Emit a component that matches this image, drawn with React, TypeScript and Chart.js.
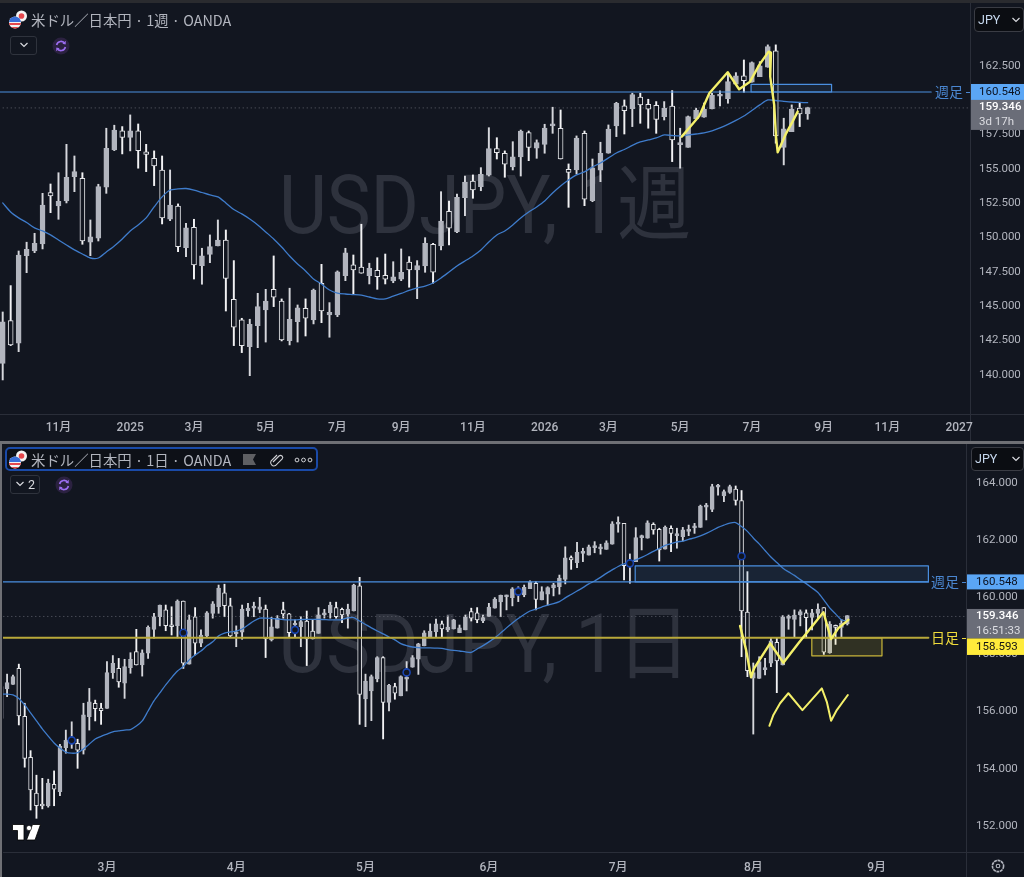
import React, { useEffect, useRef } from 'react';
import { Chart, registerables } from 'chart.js';

Chart.register(...registerables);

const weekOpen = [
140.70,143.81,142.16,148.54,148.88,149.39,153.13,152.16,152.52,154.29,
154.18,149.52,149.81,153.52,156.24,157.64,157.16,157.64,156.11,155.63,
154.78,151.19,152.16,149.12,150.61,147.81,148.64,149.25,149.68,145.36,
143.86,141.91,143.44,144.59,146.09,145.24,142.35,143.73,144.71,143.86,
146.53,144.22,144.22,147.08,147.88,147.7,147.08,147.48,147.11,146.7,
146.82,148.08,147.5,147.79,149.37,149.25,151.77,150.27,152.76,153.98,
153.57,154.4,156.33,156.0,155,155.73,157.5,156.36,156.65,157.99,
157.82,154.83,154.78,157.45,152.55,154.76,156,157.99,159.46,159.25,
160.08,159.57,159.49,158.66,159.44,156.63,156.43,158.5,158.62,159.22,
160.15,159.97,161.02,161.63,161.17,161.58,162.26,163.45,156.43,157.57,159.28,158.86];
const weekHigh = [
144.44,146.36,148.88,149.52,150.17,153.08,153.76,154.58,156.65,155.8,
154.58,151.14,153.74,157.82,158.04,157.94,158.79,158.13,156.65,156.17,
155.8,154.78,152.31,150.9,151.19,149.08,150.05,151.14,150.41,148.18,
143.98,143.91,145.8,146.09,148.52,145.39,146.17,144.95,145.39,146.11,
147.91,145.12,147.43,149.08,148.59,150.83,147.99,148.39,148.66,148.1,
149.03,148.47,148.18,149.85,149.44,153.2,152.52,153.03,154.34,154.42,
154.95,157.86,157.13,156.17,156.84,157.69,157.62,156.97,158.11,159.35,
159.15,155.22,157.26,157.62,155.58,156.8,158.06,159.71,159.88,160.37,
160.37,159.93,159.76,159.76,160.56,157.82,158.71,159.28,159.66,160.37,
160.54,161.85,161.87,162.79,162.65,162.67,163.89,163.89,158.55,159.52,159.71,159.35];
const weekLow = [
139.49,141.99,141.55,147.30,148.76,149.03,151.67,151.19,152.38,153.2,
149.37,148.54,149.61,153.08,156.19,155.95,156.17,154.91,154.66,153.64,
150.85,151.09,148.83,148.47,146.84,146.46,148.03,149.25,144.51,141.99,
141.48,139.8,141.84,142.25,144.83,142.33,142.04,142.25,142.69,143.57,
143.66,142.6,144.1,146.72,145.75,147.26,146.48,146.09,146.48,146.57,
146.72,146.24,145.41,147.33,146.53,148.96,149.32,150.22,151.45,152.72,
153.27,154.34,155.58,154.25,154.78,154.34,155.46,155.63,156,157.45,
155.58,152.06,154.49,152.18,152.47,153.93,156,157.21,157.4,157.94,
158.18,157.82,157.45,158.42,155.39,154.91,156.43,158.5,158.62,159.22,
159.44,159.64,161.02,160.44,161.17,161.58,162.26,156.73,155.15,157.57,157.94,158.47];
const weekClose = [
143.73,142.04,148.59,149.01,149.44,152.23,152.89,152.5,154.25,154.66,
149.61,149.92,153.57,156.36,157.69,157.16,157.64,156.19,155.92,155.07,
151.29,152.23,149.2,150.56,147.86,148.52,149.2,149.68,146.89,143.33,
141.99,143.54,144.83,145.24,145.51,142.4,143.91,144.75,143.98,146.04,
144.51,144.42,147.37,148.74,147.5,147.26,147.62,147.01,146.82,146.99,
147.33,147.5,147.81,149.44,147.33,151.05,150.54,152.79,153.89,153.32,
154.47,156.33,156.04,155.2,155.73,157.62,156.43,156.77,157.84,158.06,
155.58,154.61,157.11,152.65,154.93,156,157.75,159.64,159.1,160.27,
159.52,159.2,158.47,159.28,156.97,156.68,158.66,159.15,159.22,160.24,
160.19,161.21,161.63,161.29,162.6,162.36,163.76,157.26,157.77,159.22,158.86,159.32];
const weekMA = [
152.38,151.72,151.29,150.96,150.56,150.34,150.05,149.68,149.32,148.96,
148.66,148.37,148.37,148.81,149.25,149.76,150.34,150.78,151.29,152.09,
152.82,153.32,153.40,153.43,153.32,153.14,152.96,152.82,152.38,151.90,
151.58,151.21,150.78,150.27,149.76,149.17,148.52,147.94,147.43,146.84,
146.48,146.04,145.82,145.75,145.71,145.66,145.53,145.39,145.39,145.60,
145.79,146.01,146.19,146.33,146.55,146.92,147.35,147.79,148.15,148.52,
148.96,149.54,150.05,150.34,150.78,151.29,151.72,152.09,152.52,153.11,
153.62,154.05,154.42,154.64,155.00,155.29,155.66,156.02,156.27,156.57,
156.82,156.97,157.11,157.33,157.29,157.26,157.33,157.40,157.48,157.62,
157.84,158.10,158.39,158.71,159.11,159.52,159.88,159.84,159.77,159.73,159.70,159.68];
const weekPenIndex = [85.2,86.1,87.4,88.66,90.97,92.4,93.77,94.93,96.1,96.4,96.3,96.8,97.03,97.24,98.3,99.1,99.75];
const weekPenPrice = [157.21,157.82,158.71,160.37,161.9,160.66,161.21,162.43,163.4,163.32,161.58,159.52,157.21,156.07,157.45,158.3,159.03];
const weekTickIndex = [7,16,24,33,42,50,59,68,76,85,94,103,111,120];
const weekTickLabels = ['11月','2025','3月','5月','7月','9月','11月','2026','3月','5月','7月','9月','11月','2027'];
const weekPriceTicks = [140,142.5,145,147.5,150,152.5,155,157.5,160,162.5];
const weekZoneIndex = [93.9,104.0];
const weekZonePrice = [161.02,160.46];
const weekLevel = 160.46;
const weekLast = 159.3;

const dayOpen = [
155.70,156.73,156.89,157.45,155.77,154.34,153.08,152.69,152.63,153.39,
153.13,154.67,154.83,154.83,154.59,155.76,156.23,156.06,156.05,157.3,
157.45,156.93,157.48,158.04,157.57,157.98,158.82,159.26,159.5,158.95,
158.95,159.81,157.6,159.26,158.33,158.59,159.38,159.61,160.1,159.64,
158.66,158.72,159.47,159.56,159.52,159.53,158.45,158.86,159.5,159.36,
158.97,158.91,159.11,158.76,158.68,159.32,159.4,159.58,159.52,159.35,
159.46,160.34,156.38,156.66,157.08,157.83,156.26,156.81,156.49,157.07,
157.49,157.77,158.24,158.56,158.74,159.01,158.8,158.83,158.7,158.8,
159.44,159.4,159.11,159.27,159.56,159.78,159.96,159.93,160.09,160.02,
160.24,160.43,159.85,160.05,160.27,160.31,160.57,161.33,161.15,161.48,
161.42,161.68,161.64,161.62,161.8,162.5,162.53,161.04,161.19,162.03,
162.01,162.5,162.32,161.63,162.36,162.1,162.06,162.25,162.37,162.39,
163.1,163.02,163.8,163.49,163.61,163.73,163.33,159.42,157.11,157.1,
157.41,157.63,158.36,157.57,159.2,159.17,159.32,159.4,159.24,159.38,
159.58,158,158.95,158.89,159.01];
const dayHigh = [
156.81,157.25,157.22,157.6,156.23,154.57,153.71,153.6,153.57,153.86,
154.79,155.29,155.58,154.97,156.23,156.75,156.34,156.23,157.69,157.9,
157.8,157.77,158,158.82,158.1,158.94,159.38,159.67,159.67,159.61,
159.85,159.81,159.32,159.58,158.8,159.44,159.79,160.37,160.4,159.91,
158.94,159.67,159.73,159.77,159.94,159.67,159.24,159.3,159.77,159.38,
159.15,159.26,159.46,159.15,159.58,159.52,159.77,159.77,159.56,159.7,
160.4,160.64,157.25,157.22,157.86,157.86,156.89,156.93,157.19,157.69,
157.9,158.33,158.77,159.01,159.18,159.11,159.29,159.17,158.97,159.32,
159.56,159.58,159.32,159.73,159.93,160.02,160.02,160.28,160.31,160.37,
160.52,160.49,160.31,160.31,160.43,160.72,161.71,161.39,161.87,161.66,
161.77,161.89,161.8,161.92,162.59,162.76,162.53,161.46,162.38,162.12,
162.62,162.55,162.36,162.44,162.44,162.36,162.39,162.47,162.53,163.17,
163.23,163.9,163.9,163.7,163.87,163.84,163.68,160.84,157.64,157.86,
157.8,158.51,158.51,159.3,159.32,159.5,159.5,159.5,159.52,159.71,
159.58,159.09,158.97,159.17,159.30];
const dayLow = [
155.7,156.46,156.89,155.47,153.99,152.49,152.2,152.53,152.59,152.64,
152.99,154.48,154.65,153.95,154.45,155.29,155.61,155.49,156.05,157.1,
156.79,156.4,157.28,157.57,157.18,157.8,158.51,158.94,158.77,158.62,
158.52,157.45,157.6,157.92,158.21,158.56,159.21,159.38,159.26,158.56,
158.21,158.47,159.26,159.26,159.4,157.83,158.41,158.86,159.21,158.56,
158.56,158.21,157.55,158.48,158.68,159.21,159.21,159.21,159.05,158.86,
159.46,155.49,155.41,155.62,156.98,154.98,155.96,156.37,156.49,156.66,
157.49,157.24,158.24,158.54,158.56,158.53,158.74,158.83,158.7,158.8,
159.11,159.05,159.05,159.27,159.56,159.26,159.5,159.64,159.79,159.96,
160.24,159.5,159.85,159.67,159.99,160.05,160.41,160.92,160.98,161.19,
161.42,161.5,161.45,161.62,161.8,162.22,160.55,160.43,161.19,161.6,
162.01,162.15,161.21,161.63,161.54,161.66,161.91,162.1,162.18,162.39,
162.65,162.94,163.52,163.29,163.58,163.17,157.86,157.16,155.15,157.1,
157.22,157.51,156.6,157.57,158.82,158.53,158.94,158.54,158.8,159.21,
157.94,157.98,158.29,158.53,158.97];
const dayClose = [
156.81,156.95,157.16,155.79,154.30,153.19,152.64,152.63,153.43,153.22,
154.73,154.93,154.94,154.59,155.82,156.28,156.04,155.97,157.3,157.63,
156.98,157.51,157.77,157.57,158,158.89,159.26,159.67,158.95,158.91,
159.81,157.63,159.15,158.33,158.62,159.4,159.71,160.26,159.65,158.59,
158.7,159.53,159.56,159.61,159.61,158.49,158.91,159.21,159.36,158.7,
159.04,159.09,158.48,158.48,159.32,159.4,159.67,159.26,159.32,159.53,
160.37,156.54,157.01,157.16,157.83,156.26,156.86,156.58,157.16,157.12,
157.83,158.31,158.7,158.76,159.01,158.83,158.9,159.15,158.87,159.24,
159.21,159.15,159.23,159.6,159.88,160.01,160,160.24,160.2,160.29,
160.48,159.87,160.14,160.28,160.38,160.61,161.32,161.25,161.52,161.52,
161.71,161.71,161.7,161.85,162.51,162.53,161.05,161.11,162.03,162.09,
162.55,162.3,161.6,162.39,162.18,162.12,162.3,162.27,162.39,163.14,
163.14,163.82,163.82,163.64,163.82,163.33,159.46,157.37,157.3,157.69,
157.45,158.42,157.71,159.26,159.22,159.32,159.44,159.23,159.4,159.53,
158.02,159,158.89,159.03,159.30];
const dayMA = [
156.55,156.55,156.52,156.40,156.17,155.89,155.61,155.33,155.08,154.84,
154.66,154.52,154.48,154.50,154.63,154.80,154.98,155.07,155.15,155.23,
155.26,155.29,155.31,155.43,155.61,155.96,156.31,156.59,156.87,157.13,
157.36,157.52,157.75,157.92,158.06,158.24,158.38,158.59,158.69,158.73,
158.76,158.83,158.97,159.11,159.21,159.21,159.20,159.18,159.16,159.15,
159.15,159.16,159.17,159.17,159.17,159.16,159.15,159.15,159.16,159.22,
159.23,159.11,158.99,158.87,158.76,158.66,158.55,158.45,158.32,158.25,
158.20,158.18,158.17,158.17,158.16,158.15,158.11,158.08,158.06,158.03,
158.01,158.13,158.25,158.38,158.52,158.69,158.87,159.04,159.20,159.34,
159.46,159.53,159.60,159.67,159.72,159.79,159.92,160.04,160.16,160.28,
160.41,160.51,160.64,160.78,160.90,161.02,161.11,161.18,161.25,161.34,
161.44,161.55,161.65,161.76,161.82,161.88,161.91,161.97,162.02,162.09,
162.18,162.28,162.39,162.47,162.54,162.56,162.42,162.25,162.02,161.81,
161.58,161.35,161.16,160.97,160.83,160.71,160.56,160.42,160.27,160.11,
159.85,159.57,159.36,159.15,159.11];
const dayPenAIndex = [125.75,126.77,127.62,128.14,128.87,130.86,133.12,135.68,139.93,141.24,142.48,144.18];
const dayPenAPrice = [158.94,158.10,157.14,157.45,157.69,158.33,157.65,158.33,159.42,158.48,158.86,159.15];
const dayPenBIndex = [130.74,131.42,132.56,133.97,136.36,139.66,140.51,141.24,142.21,144.09];
const dayPenBPrice = [155.44,155.82,156.23,156.58,155.99,156.75,156.28,155.62,155.99,156.52];
const dayMarkerIndex = [12,31,50,69,88,107,126];
const dayMarkerPrice = [154.93,158.70,158.80,157.31,160.14,161.13,161.38];
const dayTickIndex = [18,40,62,83,105,128,149];
const dayTickLabels = ['3月','4月','5月','6月','7月','8月','9月'];
const dayPriceTicks = [152,154,156,158,160,162,164];
const dayBlueZoneIndex = [107.9,157.8];
const dayBlueZonePrice = [161.04,160.48];
const dayYellowZoneIndex = [137.96,149.9];
const dayYellowZonePrice = [158.52,157.89];
const dayBlueLevel = 160.48;
const dayYellowLevel = 158.52;
const dayLast = 159.27;

const BG = '#121620';
const AXIS_TEXT = '#b2b5be';
const BLUE = '#4a8fe0';
const FONT = 'Roboto, "Noto Sans CJK JP", sans-serif';
const CJK = '"Noto Sans CJK JP", Roboto, sans-serif';
const ZONE_BLUE = 'rgba(60,110,170,0.16)';

function candleSets(o: number[], h: number[], l: number[], c: number[], bodyW: number, wickW: number) {
  const idx = o.map((_, i) => i);
  return [
    {
      type: 'bar', order: 60, grouped: false, barThickness: wickW, borderWidth: 0,
      data: idx.map((i) => ({ x: i, y: [l[i], h[i]] })),
      backgroundColor: idx.map((i) => (c[i] < o[i] ? '#f2f2f4' : '#d6d7dc')),
    },
    {
      type: 'bar', order: 50, grouped: false, barThickness: bodyW, borderWidth: 1, borderSkipped: false, minBarLength: 2,
      data: idx.map((i) => ({ x: i, y: [Math.min(o[i], c[i]), Math.max(o[i], c[i])] })),
      backgroundColor: idx.map((i) => (c[i] < o[i] ? BG : '#b2b5be')),
      borderColor: idx.map((i) => (c[i] < o[i] ? '#e4e5e8' : '#b2b5be')),
    },
  ];
}

function path(xs: number[], ys: number[], color: string, width: number, order: number, extra: any = {}) {
  return {
    type: 'line', order, data: xs.map((x, i) => ({ x, y: ys[i] })), borderColor: color, borderWidth: width,
    pointRadius: 0, tension: 0, fill: false, borderJoinStyle: 'round', borderCapStyle: 'round', ...extra,
  };
}

function zone(xs: number[], ys: number[], stroke: string, fillColor: string, order: number) {
  return path(
    [xs[0], xs[1], xs[1], xs[0], xs[0]],
    [ys[0], ys[0], ys[1], ys[1], ys[0]],
    stroke, 1.2, order, { fill: 'shape', backgroundColor: fillColor },
  );
}

type Tag = { text: string[]; top: (y: number) => number; value: number; h: number; bg: string; fg: string[] };

function overlay(cfg: any) {
  return {
    id: 'overlay',
    afterLayout(chart: any) {
      const a = chart.chartArea;
      a.top = cfg.padTop;
      a.height = a.bottom - a.top;
      const y = chart.scales.y;
      y.top = a.top;
      y.bottom = a.bottom;
      y.height = a.height;
      y.min = cfg.yMin;
      y.max = cfg.yMax;
      y.configure();
    },
    beforeDatasetsDraw(chart: any) {
      const { ctx, chartArea: a } = chart;
      ctx.save();
      ctx.translate((a.left + a.right) / 2, (a.top + a.bottom) / 2 + cfg.markDy);
      ctx.scale(cfg.markScale, 1);
      ctx.font = `${cfg.markSize}px ${FONT}`;
      ctx.fillStyle = '#2e323d';
      ctx.textAlign = 'center';
      ctx.textBaseline = 'middle';
      ctx.fillText(cfg.mark, 0, 0);
      ctx.restore();
    },
    afterDraw(chart: any) {
      const { ctx, chartArea: a, scales } = chart;
      const y = scales.y;
      ctx.save();
      cfg.lineLabels.forEach((lb: any) => {
        const py = y.getPixelForValue(lb.value);
        ctx.font = `14px ${CJK}`;
        ctx.fillStyle = lb.color;
        ctx.textAlign = 'right';
        ctx.textBaseline = 'middle';
        ctx.fillText(lb.text, a.right - 7, py);
        ctx.fillRect(a.right - 4, Math.round(py), 4, 1);
      });
      (cfg.tags as Tag[]).forEach((t) => {
        const py = t.top(y.getPixelForValue(t.value));
        ctx.fillStyle = t.bg;
        ctx.fillRect(a.right + 1, py, 1024 - a.right - 1, t.h);
        ctx.textAlign = 'left';
        ctx.textBaseline = 'middle';
        t.text.forEach((s, i) => {
          ctx.fillStyle = t.fg[i];
          ctx.font = `${i === 0 && t.text.length > 1 ? '500 ' : ''}11.5px ${FONT}`;
          const lh = t.text.length > 1 ? 15 : t.h;
          ctx.fillText(s, a.right + cfg.yPad, py + lh / 2 + i * lh);
        });
      });
      ctx.restore();
    },
  };
}

function buildChart(canvas: HTMLCanvasElement, cfg: any) {
  return new Chart(canvas, {
    type: 'bar',
    data: { datasets: cfg.datasets },
    options: {
      animation: false,
      responsive: false,
      events: [],
      layout: { autoPadding: false, padding: { top: cfg.padTop, left: cfg.padLeft, right: 0, bottom: 0 } },
      plugins: { legend: { display: false }, tooltip: { enabled: false } },
      scales: {
        x: {
          type: 'linear', min: cfg.xMin, max: cfg.xMax, offset: false,
          grid: { display: false, drawTicks: false }, border: { display: false },
          afterBuildTicks: (s: any) => {
            s.ticks = cfg.xTicks.map((value: number) => ({ value }));
            s.min = cfg.xMin; s.max = cfg.xMax;
          },
          afterFit: (s: any) => { s.height = cfg.xAxisH; },
          ticks: {
            autoSkip: false, maxRotation: 0, padding: cfg.xPad, color: AXIS_TEXT,
            font: { family: FONT, size: 12, weight: '500' },
            callback: (_: any, i: number) => cfg.xLabels[i],
          },
        },
        y: {
          type: 'linear', position: 'right', min: cfg.yMin, max: cfg.yMax,
          grid: { display: false, drawTicks: false }, border: { display: false },
          afterBuildTicks: (s: any) => {
            s.ticks = cfg.yTicks.map((value: number) => ({ value }));
            s.min = cfg.yMin; s.max = cfg.yMax;
          },
          afterFit: (s: any) => { s.width = cfg.yAxisW; },
          ticks: {
            padding: cfg.yPad, color: AXIS_TEXT,
            font: { family: FONT, size: 11.5, lineHeight: 0.3 },
            callback: (v: number) => ['', Number(v).toFixed(3)],
          },
        },
      },
    } as any,
    plugins: [overlay(cfg)],
  } as any);
}

const weekConfig = () => ({
  padTop: 3, padLeft: 0, xAxisH: 27, yAxisW: 54, yPad: 9, xPad: 7,
  xMin: -0.339, xMax: 121.37, yMin: 137.01, yMax: 166.94,
  xTicks: weekTickIndex, xLabels: weekTickLabels, yTicks: weekPriceTicks,
  mark: 'USDJPY, 1週', markSize: 82, markScale: 0.9, markDy: 4,
  lineLabels: [{ text: '週足', value: weekLevel, color: '#4a86d0' }],
  tags: [
    { text: ['160.548'], value: weekLevel, top: (p: number) => p - 8, h: 16, bg: '#5ba6f5', fg: ['#0c1220'] },
    { text: ['159.346', '3d 17h'], value: weekLast, top: (p: number) => p - 8, h: 30, bg: '#6a6d78', fg: ['#ffffff', '#dcdde2'] },
  ],
  datasets: [
    ...candleSets(weekOpen, weekHigh, weekLow, weekClose, 5, 1.3),
    path(weekOpen.map((_, i) => i), weekMA, '#3f7ccb', 1.3, 40, { tension: 0.25 }),
    path([-1, 122], [weekLast, weekLast], '#5f626c', 1, 55, { borderDash: [1, 3], borderCapStyle: 'butt' }),
    zone(weekZoneIndex, weekZonePrice, BLUE, ZONE_BLUE, 35),
    path([-1, 116.5], [weekLevel, weekLevel], BLUE, 1.2, 30),
    path(weekPenIndex, weekPenPrice, '#f4f06a', 2.4, 10),
  ],
});

const dayConfig = () => ({
  padTop: 3, padLeft: 3, xAxisH: 25, yAxisW: 58, yPad: 10, xPad: 9,
  xMin: 0.306, xMax: 164.2, yMin: 151.02, yMax: 165.31,
  xTicks: dayTickIndex, xLabels: dayTickLabels, yTicks: dayPriceTicks,
  mark: 'USDJPY, 1日', markSize: 82, markScale: 0.9, markDy: 3,
  lineLabels: [
    { text: '週足', value: dayBlueLevel, color: '#4a86d0' },
    { text: '日足', value: dayYellowLevel, color: '#f0dc3c' },
  ],
  tags: [
    { text: ['160.548'], value: dayBlueLevel, top: (p: number) => p - 7.5, h: 15, bg: '#5ba6f5', fg: ['#0c1220'] },
    { text: ['159.346', '16:51:33'], value: dayLast, top: (p: number) => p - 7.5, h: 29.5, bg: '#6a6d78', fg: ['#ffffff', '#dcdde2'] },
    { text: ['158.593'], value: dayLast, top: (p: number) => p + 22, h: 16.5, bg: '#ffeb3b', fg: ['#141414'] },
  ],
  datasets: [
    ...candleSets(dayOpen, dayHigh, dayLow, dayClose, 4, 1.2),
    path(dayOpen.map((_, i) => i), dayMA, '#3f7ccb', 1.3, 40, { tension: 0.25 }),
    path([-1, 165], [dayLast, dayLast], '#5f626c', 1, 55, { borderDash: [1, 3], borderCapStyle: 'butt' }),
    zone(dayBlueZoneIndex, dayBlueZonePrice, BLUE, ZONE_BLUE, 35),
    zone(dayYellowZoneIndex, dayYellowZonePrice, '#c9b73a', 'rgba(255,235,59,0.13)', 34),
    path([-1, 157.8], [dayBlueLevel, dayBlueLevel], BLUE, 1.2, 30),
    path([-1, 157.8], [dayYellowLevel, dayYellowLevel], '#b9a93a', 2, 29),
    path(dayPenAIndex, dayPenAPrice, '#f4f06a', 2.4, 10),
    path(dayPenBIndex, dayPenBPrice, '#f4f06a', 2, 11),
    {
      type: 'line', order: 5, showLine: false, data: dayMarkerIndex.map((x, i) => ({ x, y: dayMarkerPrice[i] })),
      pointStyle: 'circle', pointRadius: 3.5, pointBorderWidth: 1.6, pointBorderColor: '#1844b0', pointBackgroundColor: BG,
    },
  ],
});

const abs = (l: number, t: number, w: number, h: number, extra: React.CSSProperties = {}): React.CSSProperties => ({
  position: 'absolute', left: l, top: t, width: w, height: h, ...extra,
});

function Flags({ x, y }: { x: number; y: number }) {
  return (
    <svg style={abs(x, y, 26, 24)} viewBox="0 0 26 24">
      <circle cx="14.5" cy="7" r="5.5" fill="#f4f4f4" />
      <circle cx="14.5" cy="7" r="2.8" fill="#e5484d" />
      <clipPath id={`us${y}`}><circle cx="8" cy="13.5" r="6" /></clipPath>
      <g clipPath={`url(#us${y})`}>
        <rect x="0" y="7" width="16" height="14" fill="#f2f2f2" />
        <rect x="0" y="14" width="16" height="2" fill="#e5484d" />
        <rect x="0" y="18" width="16" height="2" fill="#e5484d" />
        <rect x="0" y="7" width="16" height="6" fill="#3a6fd8" />
      </g>
    </svg>
  );
}

function Sync({ x, y }: { x: number; y: number }) {
  return (
    <svg style={abs(x - 9, y - 9, 18, 18)} viewBox="0 0 18 18">
      <circle cx="9" cy="9" r="8.5" fill="#2b2140" />
      <path d="M4.6 8 A4.6 4.6 0 0 1 13 6.6 M13.4 10 A4.6 4.6 0 0 1 5 11.4" fill="none" stroke="#9b6df0" strokeWidth="1.6" />
      <path d="M13.8 3.8 L13.6 7.4 L10.4 6.8 Z M4.2 14.2 L4.4 10.6 L7.6 11.2 Z" fill="#9b6df0" />
    </svg>
  );
}

function Chevron({ x, y }: { x: number; y: number }) {
  return (
    <svg style={abs(x, y, 10, 6)} viewBox="0 0 10 6">
      <path d="M1.5 1 L5 4.5 L8.5 1" fill="none" stroke="#d8d9de" strokeWidth="1.2" />
    </svg>
  );
}

function JpyBox({ x, y, w, h }: { x: number; y: number; w: number; h: number }) {
  return (
    <div style={abs(x, y, w, h, { background: '#0b0d12', border: '1px solid #3a3c44', borderRadius: 4, boxSizing: 'border-box' })}>
      <span style={{ position: 'absolute', left: 3, top: 0, lineHeight: `${h - 2}px`, fontFamily: FONT, fontSize: 12.5, color: '#c7d8ee' }}>JPY</span>
      <Chevron x={w - 14} y={h / 2 - 4} />
    </div>
  );
}

const titleStyle = (t: number): React.CSSProperties => ({
  position: 'absolute', left: 31, top: t, height: 20, lineHeight: '20px', whiteSpace: 'nowrap',
  fontFamily: CJK, fontSize: 14.4, color: '#b2b5be',
});

export default function App() {
  const weekRef = useRef<HTMLCanvasElement>(null);
  const dayRef = useRef<HTMLCanvasElement>(null);
  useEffect(() => {
    const a = buildChart(weekRef.current!, weekConfig());
    const b = buildChart(dayRef.current!, dayConfig());
    return () => { a.destroy(); b.destroy(); };
  }, []);
  return (
    <div style={{ position: 'fixed', left: 0, top: 0, width: 1024, height: 877, overflow: 'hidden', background: BG }}>
      <div style={abs(0, 0, 1024, 3, { background: '#2a2b2f' })} />
      <div style={abs(0, 414, 1024, 1, { background: '#2a2e39' })} />
      <div style={abs(970, 3, 1, 438, { background: '#2a2e39' })} />
      <div style={abs(0, 441, 1024, 3, { background: '#6f7075' })} />
      <div style={abs(0, 441, 2, 436, { background: '#6f7075' })} />
      <div style={abs(3, 852, 1021, 1, { background: '#2a2e39' })} />
      <div style={abs(966, 444, 1, 433, { background: '#2a2e39' })} />
      <canvas ref={weekRef} width={1024} height={441} style={abs(0, 0, 1024, 441)} />
      <canvas ref={dayRef} width={1024} height={436} style={abs(0, 441, 1024, 436)} />

      <Flags x={7} y={9} />
      <div style={titleStyle(10)}>米ドル／日本円 · 1週 · OANDA</div>
      <div style={abs(10, 36, 27, 19, { border: '1px solid #2f333d', borderRadius: 3, boxSizing: 'border-box' })} />
      <Chevron x={18.5} y={42} />
      <Sync x={61} y={45.5} />
      <JpyBox x={974} y={7} w={50} h={25} />

      <div style={abs(5, 447, 313, 24, { border: '2px solid #1a4aa8', borderRadius: 5, boxSizing: 'border-box', background: '#0d1017' })} />
      <Flags x={7} y={449} />
      <div style={titleStyle(450)}>米ドル／日本円 · 1日 · OANDA</div>
      <svg style={abs(240, 452, 80, 16)} viewBox="0 0 80 16">
        <path d="M3 2 H16 L13 7.5 L16 13 H3 Z" fill="#5e5f63" />
        <path d="M33 10 L39 4 A2.2 2.2 0 0 1 42.2 7 L35.5 13.6 A3.4 3.4 0 0 1 31 9 L37 3" fill="none" stroke="#cfd0d4" strokeWidth="1.1" />
        <circle cx="57" cy="8" r="1.9" fill="none" stroke="#cfd0d4" strokeWidth="1" />
        <circle cx="63.5" cy="8" r="1.9" fill="none" stroke="#cfd0d4" strokeWidth="1" />
        <circle cx="70" cy="8" r="1.9" fill="none" stroke="#cfd0d4" strokeWidth="1" />
      </svg>
      <div style={abs(10, 475, 30, 19, { border: '1px solid #2f333d', borderRadius: 3, boxSizing: 'border-box' })} />
      <Chevron x={15} y={481} />
      <div style={{ position: 'absolute', left: 28, top: 475, lineHeight: '19px', fontFamily: FONT, fontSize: 12.5, color: '#d8d9de' }}>2</div>
      <Sync x={64} y={484.5} />
      <JpyBox x={971} y={447} w={53} h={24} />

      <svg style={abs(11, 823, 32, 18)} viewBox="0 0 32 18">
        <path d="M1.5 1.5 H13 V17 H6.5 V7.5 H1.5 Z M29.5 1.5 L24 17 H15.5 L21.5 1.5 Z" fill="#ffffff" stroke="#000" strokeWidth="0.8" />
        <circle cx="18" cy="5" r="2.6" fill="#ffffff" stroke="#000" strokeWidth="0.6" />
      </svg>
      <svg style={abs(989, 857, 18, 18)} viewBox="0 0 18 18">
        <circle cx="9" cy="9" r="5.6" fill="none" stroke="#b2b5be" strokeWidth="1.6" strokeDasharray="3 0.6" />
        <circle cx="9" cy="9" r="1.8" fill="none" stroke="#b2b5be" strokeWidth="1.1" />
      </svg>
    </div>
  );
}
